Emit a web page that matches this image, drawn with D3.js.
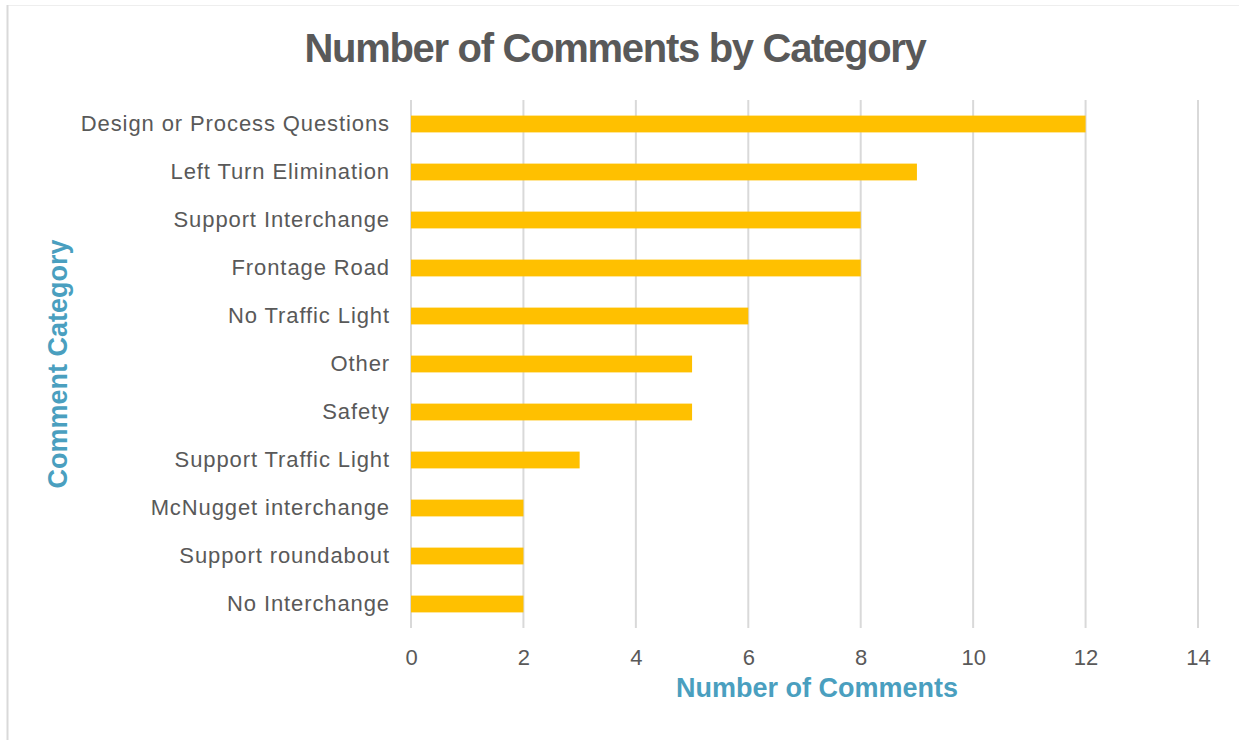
<!DOCTYPE html>
<html lang="en">
<head>
    <meta charset="UTF-8">
    <title>Number of Comments by Category</title>
    <style>
        body { margin: 0; background: #fff; }
        text { font-family: "Liberation Sans", Arial, sans-serif; }
        .tick text { fill: #595959; }
    </style>
    <script src="https://d3js.org/d3.v7.min.js"></script>
</head>
<body>
    <script>
        // data (top to bottom)
        const categories = ["Design or Process Questions", "Left Turn Elimination", "Support Interchange",
            "Frontage Road", "No Traffic Light", "Other", "Safety", "Support Traffic Light",
            "McNugget interchange", "Support roundabout", "No Interchange"]
        const counts = [12, 9, 8, 8, 6, 5, 5, 3, 2, 2, 2]
        const xTicks = [0, 2, 4, 6, 8, 10, 12, 14]

        const width = 1239, height = 740
        const margin = { top: 100, right: 41, bottom: 112, left: 411 }

        const svg = d3.select("body").append("svg")
            .attr("width", width)
            .attr("height", height)

        // chart border (only top + left visible in the original)
        svg.append("line").attr("x1", 8).attr("x2", width).attr("y1", 5.5).attr("y2", 5.5)
            .attr("stroke", "#eeeeee").attr("stroke-width", 1)
        svg.append("line").attr("x1", 7.5).attr("x2", 7.5).attr("y1", 5).attr("y2", height)
            .attr("stroke", "#d9d9d9").attr("stroke-width", 2)

        const x = d3.scaleLinear()
            .domain([0, 14])
            .range([margin.left, width - margin.right])

        const y = d3.scaleBand()
            .domain(categories)
            .range([margin.top, height - margin.bottom])
            .paddingInner(0.65)
            .paddingOuter(0.325)

        // gridlines
        svg.append("g")
            .selectAll("line")
            .data(xTicks)
            .enter().append("line")
            .attr("x1", d => x(d)).attr("x2", d => x(d))
            .attr("y1", margin.top).attr("y2", height - margin.bottom)
            .attr("stroke", "#d9d9d9")
            .attr("stroke-width", 2)

        // bars
        svg.append("g")
            .selectAll("rect")
            .data(categories)
            .enter().append("rect")
            .attr("x", x(0))
            .attr("y", d => y(d))
            .attr("width", (d, i) => x(counts[i]) - x(0))
            .attr("height", y.bandwidth())
            .attr("fill", "#ffc000")

        // x axis
        const xAxis = svg.append("g")
            .attr("transform", `translate(0,${height - margin.bottom})`)
            .call(d3.axisBottom(x).tickValues(xTicks).tickSize(0).tickPadding(21))
        xAxis.select(".domain").remove()
        xAxis.selectAll("text").style("font-size", "22px")

        // y axis
        const yAxis = svg.append("g")
            .attr("transform", `translate(${margin.left},0)`)
            .call(d3.axisLeft(y).tickSize(0).tickPadding(21))
        yAxis.select(".domain").remove()
        yAxis.selectAll("text")
            .style("font-size", "22px")
            .style("letter-spacing", "0.9px")

        // title
        svg.append("text")
            .attr("x", 615)
            .attr("y", 62)
            .attr("text-anchor", "middle")
            .style("font-size", "40px")
            .style("font-weight", "bold")
            .style("fill", "#595959")
            .style("letter-spacing", "-1.3px")
            .text("Number of Comments by Category")

        // axis titles
        svg.append("text")
            .attr("x", 817)
            .attr("y", 697)
            .attr("text-anchor", "middle")
            .style("font-size", "27px")
            .style("font-weight", "bold")
            .style("fill", "#4a9fbf")
            .text("Number of Comments")

        svg.append("text")
            .attr("transform", "translate(66.5,364) rotate(-90)")
            .attr("text-anchor", "middle")
            .style("font-size", "27px")
            .style("font-weight", "bold")
            .style("fill", "#4a9fbf")
            .text("Comment Category")
    </script>
</body>
</html>
